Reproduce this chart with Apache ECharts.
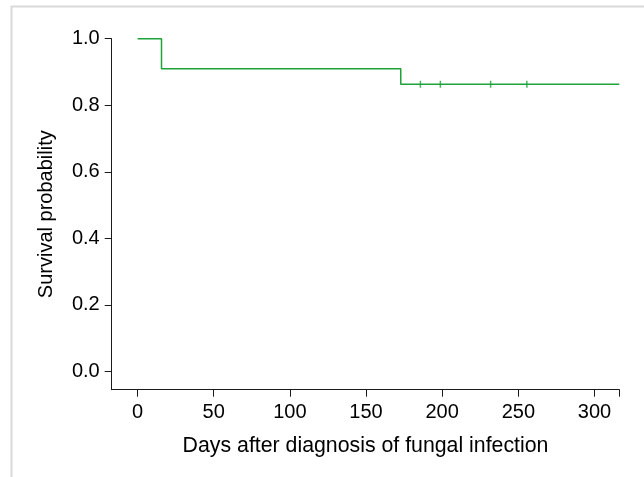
<!DOCTYPE html>
<html>
<head>
<meta charset="utf-8">
<script src="https://cdn.jsdelivr.net/npm/echarts@6/dist/echarts.min.js"></script>
<style>
  html, body { margin: 0; padding: 0; background: #fff; }
  #chart { width: 644px; height: 477px; }
</style>
</head>
<body>
<div id="chart"></div>
<script>
// Kaplan-Meier curve
const stepDays = [0, 15.7, 172.8, 316.3];
const stepSurvival = [1.0, 0.91, 0.863, 0.863];

// censored observations (tick marks)
const censorDays = [185.7, 198.8, 231.8, 255.6];
const censorSurvival = [0.863, 0.863, 0.863, 0.863];

const xTickLabels = [0, 50, 100, 150, 200, 250, 300];
const xTickMarks = [0, 50, 100, 150, 200, 250, 300, 316.3];
const yTickLabels = [0, 0.2, 0.4, 0.6, 0.8, 1.0];

const lineColor = '#1ea23a';
const axisColor = '#1a1a1a';
const font = '"Liberation Sans", Arial, sans-serif';

const chart = echarts.init(document.getElementById('chart'));

chart.setOption({
  animation: false,
  graphic: [
    {
      type: 'rect',
      shape: { x: 11.5, y: 6.5, width: 700, height: 600 },
      style: { fill: 'none', stroke: '#d9d9d9', lineWidth: 2 },
      silent: true,
    },
  ],
  grid: {
    left: 111.7,
    right: 24.7,
    top: 38.7,
    bottom: 87.3,
  },
  xAxis: {
    type: 'value',
    min: -17,
    max: 316.3,
    name: 'Days after diagnosis of fungal infection',
    nameLocation: 'middle',
    nameGap: 46,
    nameTextStyle: { fontFamily: font, fontSize: 21.3, color: '#000' },
    axisLine: { show: true, onZero: false, lineStyle: { color: axisColor, width: 1 } },
    axisTick: {
      show: true,
      length: 7,
      customValues: xTickMarks,
      lineStyle: { color: axisColor, width: 1 },
    },
    axisLabel: {
      customValues: xTickLabels,
      margin: 13,
      fontFamily: font,
      fontSize: 20,
      color: '#000',
    },
    splitLine: { show: false },
  },
  yAxis: {
    type: 'value',
    min: -0.055,
    max: 1.0,
    name: 'Survival probability',
    nameLocation: 'middle',
    nameGap: 55,
    nameRotate: 90,
    nameTextStyle: { fontFamily: font, fontSize: 20, color: '#000' },
    axisLine: { show: true, onZero: false, lineStyle: { color: axisColor, width: 1 } },
    axisTick: {
      show: true,
      length: 7,
      customValues: yTickLabels,
      lineStyle: { color: axisColor, width: 1 },
    },
    axisLabel: {
      customValues: yTickLabels,
      margin: 12,
      fontFamily: font,
      fontSize: 20,
      color: '#000',
      formatter: (v) => v.toFixed(1),
    },
    splitLine: { show: false },
  },
  series: [
    {
      name: 'Survival',
      type: 'line',
      step: 'end',
      data: stepDays.map((d, i) => [d, stepSurvival[i]]),
      showSymbol: false,
      lineStyle: { color: lineColor, width: 1.5 },
    },
    {
      name: 'Censored',
      type: 'scatter',
      data: censorDays.map((d, i) => [d, censorSurvival[i]]),
      symbol: 'rect',
      symbolSize: [1.5, 7],
      itemStyle: { color: lineColor },
    },
  ],
});
</script>
</body>
</html>
